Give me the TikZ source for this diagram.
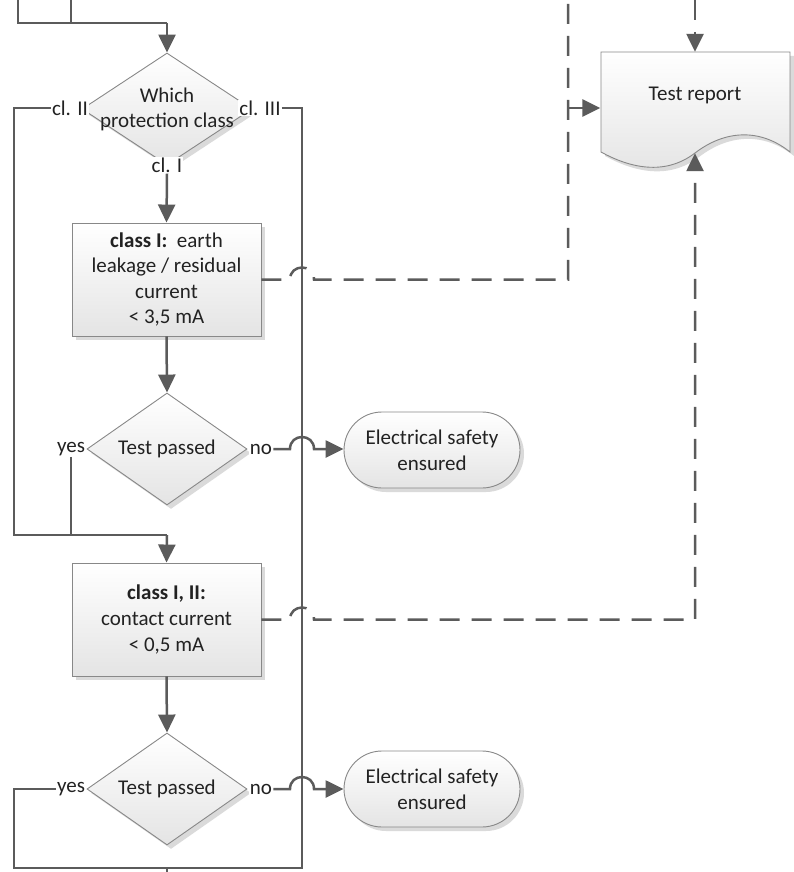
\documentclass[tikz,border=0pt]{standalone}
\usepackage{fontspec}
\setmainfont{Carlito}
\usetikzlibrary{arrows.meta,shapes.geometric,shadows}

\definecolor{wire}{HTML}{5B5B5B}
\definecolor{edge}{HTML}{888888}
\definecolor{ink}{HTML}{222222}
\definecolor{shade}{HTML}{E4E4E4}
\definecolor{shadowgray}{HTML}{DADADA}

\begin{document}
\begin{tikzpicture}[x=1pt,y=-1pt,
  font=\fontsize{21}{25.6}\selectfont, text=ink,
  base/.style={draw=edge, line width=0.9pt, top color=white, bottom color=shade,
    drop shadow={shadow xshift=4pt, shadow yshift=-4pt, fill=shadowgray, opacity=1}},
  procbox/.style={base, rectangle, minimum width=189pt, minimum height=113pt,
    inner sep=0pt, align=center},
  decision/.style={base, diamond, inner sep=0pt, minimum width=160pt, minimum height=112pt},
  termbox/.style={base, rectangle, rounded corners=38pt, minimum width=176pt,
    minimum height=76pt, inner sep=0pt, align=center},
  tag/.style={fill=white, inner sep=1pt},
  wireline/.style={draw=wire, line width=2.5pt},
  flow/.style={wireline, -{Triangle[length=18pt,width=17pt]}},
  dashedwire/.style={wireline, dash pattern=on 20pt off 12pt},
  dashedflow/.style={dashedwire, -{Triangle[length=18pt,width=17pt]}}]

\useasboundingbox (0,0) rectangle (794,872);

% ---------- shapes ----------
\node[decision, minimum width=170pt] (d1) at (167,109) {};
\node[align=center] (q1) at (167,109.5) {Which\\protection class};

\node[procbox] (b1) at (166.5,279.5)
  {\textbf{class I:}~ earth\\leakage / residual\\current\\< 3,5 mA};

\node[decision] (d2) at (167,449) {};
\node (q2) at (d2.center) {Test passed};

\node[termbox] (t1) at (432,450) {Electrical safety\\ensured};

\node[procbox] (b2) at (166.5,619.5)
  {\textbf{class I, II:}\\contact current\\< 0,5 mA};

\node[decision] (d3) at (167,789) {};
\node (q3) at (d3.center) {Test passed};

\node[termbox] (t2) at (432,789) {Electrical safety\\ensured};

% test report document shape
\fill[shadowgray, xshift=4pt, yshift=-4pt]
  (601,52) -- (790,52) -- (790,152)
  .. controls (760,128) and (725,130) .. (695,153)
  .. controls (665,176) and (630,168) .. (601,152) -- cycle;
\shade[top color=white, bottom color=shade, draw=edge, line width=0.9pt]
  (601,52) -- (790,52) -- (790,152)
  .. controls (760,128) and (725,130) .. (695,153)
  .. controls (665,176) and (630,168) .. (601,152) -- cycle;
\node[minimum width=189pt, minimum height=101pt, inner sep=0pt] (report) at (695,102.5) {};
\node (reporttext) at (695,95) {Test report};

% ---------- branch labels ----------
\node[tag] (c2) at (70,108) {cl. II};
\node[tag] (c3) at (260,108) {cl. III};
\node[tag] (c1) at (167,165) {cl. I};
\node[tag] (y2) at (71,449) {yes};
\node[tag] (n2) at (261,449) {no};
\node[tag] (y3) at (71,789) {yes};
\node[tag] (n3) at (261,789) {no};

% ---------- connector end points ----------
\coordinate (inA) at (18,0);
\coordinate (inB) at (71,0);
\coordinate (joinTop) at (167,23);
\coordinate (merge2) at (167,535);
\coordinate (mergeBottom) at (167,868);
\coordinate (exitBottom) at (167,872);
\coordinate (repTap) at (568,108);
\coordinate (dashTopL) at (568,0);
\coordinate (dashTopR) at (695,0);

% ---------- solid connectors ----------
\draw[wireline] (inA) -- (18,23) -- (joinTop);
\draw[wireline] (inB) -- (71,23);
\draw[flow] (joinTop) -- (d1.north);

\draw[flow] (c1.south) -- (b1.north);
\draw[wireline] (c2.west) -- (14,108) -- (14,535) -- (merge2);
\draw[wireline] (y2.south) -- (71,535);
\draw[flow] (merge2) -- (b2.north);
\draw[wireline] (c3.east) -- (302,108) -- (302,868) -- (mergeBottom);
\draw[wireline] (y3.west) -- (14,789) -- (14,868) -- (mergeBottom);
\draw[wireline] (mergeBottom) -- (exitBottom);

\draw[flow] (b1.south) -- (d2.north);
\draw[flow] (b2.south) -- (d3.north);

\draw[flow] (n2.east) -- (290,449) .. controls (290,433) and (314,433) .. (314,449) -- (t1.west |- n2);
\draw[flow] (n3.east) -- (290,789) .. controls (290,773) and (314,773) .. (314,789) -- (t2.west);

% ---------- dashed connectors to the report ----------
\draw[dashedwire] (b1.east) -- (290,279.5)
  .. controls (290,263.5) and (314,263.5) .. (314,279.5) -- (568,279.5) -- (dashTopL);
\draw[dashedflow] (repTap) -- (report.west |- repTap);
\draw[dashedflow] (dashTopR) -- (report.north);
\draw[dashedflow] (b2.east) -- (290,619.5)
  .. controls (290,603.5) and (314,603.5) .. (314,619.5) -- (695,619.5) -- (report.south);

\end{tikzpicture}
\end{document}
